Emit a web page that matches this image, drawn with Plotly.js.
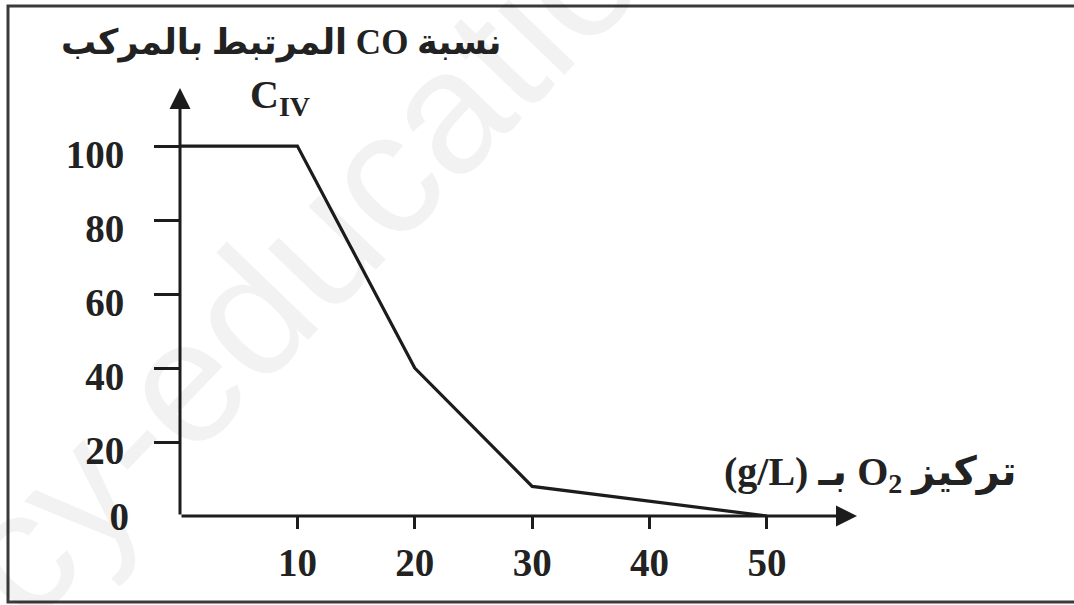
<!DOCTYPE html>
<html>
<head>
<meta charset="utf-8">
<script src="https://cdn.plot.ly/plotly-3.0.1.min.js"></script>
<style>html,body{margin:0;padding:0;background:#fff;}#chart{width:1074px;height:605px;}</style>
</head>
<body>
<div id="chart"></div>
<script>
// Data
const o2Concentration = [0, 10, 20, 30, 50];      // g/L
const coBoundPercent  = [100, 100, 40, 8, 0];     // % CO bound to C_IV
const xTickVals = [10, 20, 30, 40, 50];
const yTickVals = [20, 40, 60, 80, 100];
const yTitle = 'المرتبط بالمركب CO نسبة';
const yTitle2 = 'C<sub>IV</sub>';
const xTitle = '(g/L) بـ O<sub>2</sub> تركيز';
const watermark = 'ency-education';

const X_MAX = 57.67, Y_MAX = 115.7;
const ink = '#1c1c1c';
const serif = 'Liberation Serif, Times New Roman, DejaVu Sans, serif';

const trace = {
  x: o2Concentration, y: coBoundPercent,
  type: 'scatter', mode: 'lines',
  line: {color: ink, width: 3.2},
  hoverinfo: 'skip', showlegend: false, cliponaxis: false
};

const layout = {
  width: 1074, height: 605,
  margin: {l: 180, r: 217, t: 88, b: 89, pad: 0},
  paper_bgcolor: '#fff', plot_bgcolor: 'rgba(0,0,0,0)',
  showlegend: false,
  xaxis: {
    range: [0, X_MAX], showgrid: false, zeroline: false, showline: false,
    tickmode: 'array', tickvals: xTickVals, ticktext: xTickVals.map(String),
    ticks: 'outside', ticklen: 12, tickwidth: 3, tickcolor: ink,
    ticklabelstandoff: 0,
    tickfont: {family: serif, size: 39, color: '#222', weight: 'bold'},
    fixedrange: true
  },
  yaxis: {
    range: [0, Y_MAX], showgrid: false, zeroline: false, showline: false,
    tickmode: 'array', tickvals: yTickVals, ticktext: yTickVals.map(String),
    ticks: 'outside', ticklen: 25, tickwidth: 3, tickcolor: ink,
    ticklabelstandoff: 22, ticklabelshift: 8,
    tickfont: {family: serif, size: 39, color: '#222', weight: 'bold'},
    fixedrange: true
  },
  yaxis2: {
    overlaying: 'y', side: 'left', anchor: 'x',
    range: [0, Y_MAX], showgrid: false, zeroline: false, showline: false,
    tickmode: 'array', tickvals: [0], ticktext: ['0'],
    ticks: '', ticklabelstandoff: 50,
    tickfont: {family: serif, size: 39, color: '#222', weight: 'bold'},
    fixedrange: true
  },
  shapes: [
    {type: 'rect', xref: 'paper', yref: 'paper',
     x0: (8 - 180) / 677, x1: (1090 - 180) / 677,
     y0: (516 - 602) / 428, y1: (516 - 6) / 428,
     line: {color: '#3a3a3a', width: 3}, fillcolor: 'rgba(0,0,0,0)', layer: 'below'}
  ],
  annotations: [
    {text: watermark, xref: 'paper', yref: 'paper',
     x: (262 - 180) / 677, y: (516 - 300) / 428, showarrow: false,
     xanchor: 'center', yanchor: 'middle',
     textangle: -46, font: {family: 'Liberation Sans, Arial, sans-serif', size: 175, color: 'rgba(0,0,0,0.05)'}},
    // axis arrows
    {text: '', xref: 'x', yref: 'y', axref: 'x', ayref: 'y',
     x: 0, y: Y_MAX, ax: 0, ay: 0, showarrow: true,
     arrowhead: 2, arrowsize: 1.4, arrowwidth: 3, arrowcolor: ink, standoff: 0, startstandoff: 0},
    {text: '', xref: 'x', yref: 'y', axref: 'x', ayref: 'y',
     x: X_MAX, y: 0, ax: 0, ay: 0, showarrow: true,
     arrowhead: 2, arrowsize: 1.4, arrowwidth: 3, arrowcolor: ink, standoff: 0, startstandoff: 0},
    // titles
    {text: yTitle, xref: 'paper', yref: 'paper',
     x: (281 - 180) / 677, y: (516 - 43) / 428, showarrow: false,
     xanchor: 'center', yanchor: 'middle',
     font: {family: serif, size: 35, color: '#222', weight: 'bold'}},
    {text: yTitle2, xref: 'paper', yref: 'paper',
     x: (280 - 180) / 677, y: (516 - 97) / 428, showarrow: false,
     xanchor: 'center', yanchor: 'middle',
     font: {family: serif, size: 40, color: '#222', weight: 'bold'}},
    {text: xTitle, xref: 'paper', yref: 'paper',
     x: (871 - 180) / 677, y: (516 - 474) / 428, showarrow: false,
     xanchor: 'center', yanchor: 'middle',
     font: {family: serif, size: 40, color: '#222', weight: 'bold'}}
  ]
};

Plotly.newPlot('chart', [trace, {x: [], y: [], yaxis: 'y2', showlegend: false, hoverinfo: 'skip'}], layout, {displayModeBar: false, staticPlot: true});
</script>
</body>
</html>
